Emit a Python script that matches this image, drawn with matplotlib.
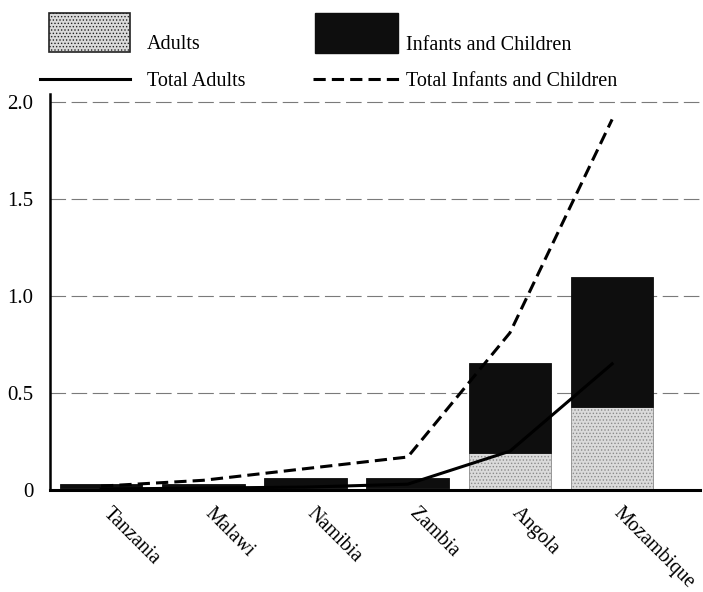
import matplotlib
matplotlib.use("Agg")
import matplotlib.pyplot as plt
import matplotlib.transforms as mtransforms
from matplotlib.patches import Rectangle
from matplotlib.lines import Line2D

plt.rcParams['font.family'] = ['Liberation Serif', 'DejaVu Serif']
plt.rcParams['hatch.linewidth'] = 0.6

# datos
paises = ["Tanzania", "Malawi", "Namibia", "Zambia", "Angola", "Mozambique"]
adultos = [0.01, 0.01, 0.01, 0.01, 0.19, 0.43]
ninos = [0.02, 0.02, 0.05, 0.05, 0.465, 0.67]
total_adultos = [0.005, 0.01, 0.015, 0.03, 0.20, 0.65]
total_ninos = [0.02, 0.05, 0.11, 0.17, 0.81, 1.91]
yticks = [0, 0.5, 1.0, 1.5, 2.0]
ytick_labels = ["0", "0.5", "1.0", "1.5", "2.0"]

W, H = 703, 592
fig = plt.figure(figsize=(W / 100, H / 100), dpi=100)
ax = fig.add_axes([50 / W, 102 / H, 650 / W, 396 / H])

x = list(range(len(paises)))
ancho = 0.81
gris = "#dadada"
negro = "#0e0e0e"
guiones = (0, (4, 2))

# barras apiladas
ax.bar(x, adultos, width=ancho, color=gris, edgecolor="#8a8a8a",
       hatch=".....", linewidth=0.6, zorder=2)
ax.bar(x, ninos, width=ancho, bottom=adultos, color=negro,
       edgecolor=negro, linewidth=0.6, zorder=2)

# lineas de totales
ax.plot(x, total_adultos, color="black", linewidth=2.2, zorder=3)
ax.plot(x, total_ninos, color="black", linewidth=2.2, linestyle=guiones, zorder=3)

# grid
for y in yticks[1:]:
    ax.axhline(y, color="#7a7a7a", linewidth=0.8, linestyle=(0, (14, 5)), zorder=1)

ax.set_xlim(-0.5, 5.86)
ax.set_ylim(0, 2.041)
ax.set_yticks(yticks)
ax.set_yticklabels(ytick_labels, fontsize=15)
ax.set_xticks(x)
ax.set_xticklabels(paises, fontsize=14.5, rotation=-45, ha="left", va="top",
                   rotation_mode="anchor")
ax.tick_params(axis="both", length=0)
ax.tick_params(axis="y", pad=12)
ax.tick_params(axis="x", pad=10)
desplazar = mtransforms.ScaledTranslation(11 / 100, 0, fig.dpi_scale_trans)
for lbl in ax.get_xticklabels():
    lbl.set_transform(lbl.get_transform() + desplazar)

for s in ["top", "right"]:
    ax.spines[s].set_visible(False)
ax.spines["left"].set_linewidth(1.8)
ax.spines["bottom"].set_linewidth(2.2)

# leyenda manual (coordenadas en pixeles desde arriba)
def fx(px):
    return px / W

def fy(py):
    return 1 - py / H

fig.add_artist(Rectangle((fx(49), fy(52)), fx(81), 39 / H, transform=fig.transFigure,
                         facecolor=gris, edgecolor="#222222", hatch=".....", linewidth=1.2))
fig.add_artist(Rectangle((fx(315), fy(53)), fx(83), 40 / H, transform=fig.transFigure,
                         facecolor=negro, edgecolor=negro, linewidth=1))
fig.add_artist(Line2D([fx(40), fx(130)], [fy(79), fy(79)], transform=fig.transFigure,
                      color="black", linewidth=2.2))
fig.add_artist(Line2D([fx(313), fx(400)], [fy(79), fy(79)], transform=fig.transFigure,
                      color="black", linewidth=2.2, linestyle=guiones))
fig.text(fx(147), fy(49), "Adults", fontsize=14.5, va="baseline", ha="left")
fig.text(fx(406), fy(50), "Infants and Children", fontsize=14.5, va="baseline", ha="left")
fig.text(fx(147), fy(86), "Total Adults", fontsize=14.5, va="baseline", ha="left")
fig.text(fx(406), fy(86), "Total Infants and Children", fontsize=14.5, va="baseline", ha="left")

fig.savefig("out.png", dpi=100)
